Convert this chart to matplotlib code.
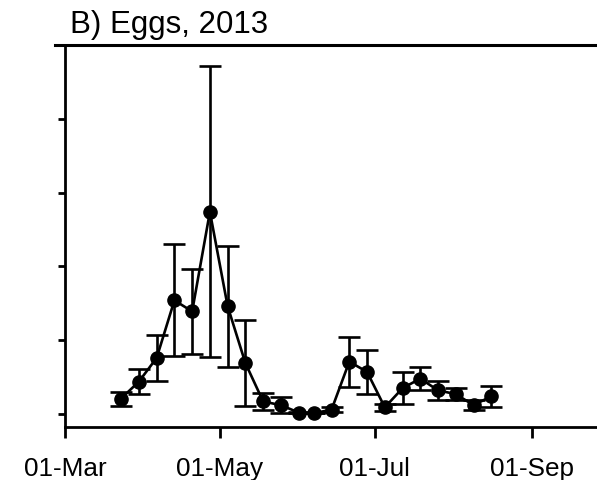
import matplotlib
matplotlib.use("Agg")
import matplotlib.pyplot as plt
import matplotlib.dates as mdates
from matplotlib.lines import Line2D
import datetime as dt

plt.rcParams['font.family'] = ['Liberation Sans', 'DejaVu Sans']

dates = ["2013-03-23", "2013-03-30", "2013-04-06", "2013-04-13", "2013-04-20",
         "2013-04-27", "2013-05-04", "2013-05-11", "2013-05-18", "2013-05-25",
         "2013-06-01", "2013-06-07", "2013-06-14", "2013-06-21", "2013-06-28",
         "2013-07-05", "2013-07-12", "2013-07-19", "2013-07-26", "2013-08-02",
         "2013-08-09", "2013-08-16"]
eggs = [0.21, 0.44, 0.76, 1.54, 1.39, 2.74, 1.46, 0.69, 0.17, 0.12, 0.02,
        0.01, 0.06, 0.71, 0.57, 0.09, 0.35, 0.48, 0.32, 0.27, 0.12, 0.24]
err = [0.095, 0.165, 0.31, 0.76, 0.575, 1.97, 0.82, 0.58, 0.115, 0.11, 0.01,
       0.0, 0.035, 0.34, 0.30, 0.05, 0.22, 0.16, 0.125, 0.08, 0.07, 0.14]
y_ticks = [0, 1, 2, 3, 4, 5]
x_ticks = ["2013-03-01", "2013-05-01", "2013-07-01", "2013-09-01"]

x = [dt.datetime.strptime(d, "%Y-%m-%d") for d in dates]

fig = plt.figure(figsize=(5.97, 4.81), dpi=100)
ax = fig.add_axes([65.4 / 597, 53 / 481, 1 - 65.4 / 597, (428 - 46) / 481])

ax.errorbar(x, eggs, yerr=err, fmt='o-', color='black', ecolor='black',
            markersize=9.5, linewidth=1.9, elinewidth=1.9, capsize=8.2,
            capthick=1.9)

x0 = dt.datetime(2013, 3, 1)
ax.set_xlim(x0, x0 + dt.timedelta(days=209.7))
ax.set_ylim(-0.176, 5.0)
ax.set_yticks(y_ticks)
ax.set_yticklabels([])
ax.set_xticks([dt.datetime.strptime(d, "%Y-%m-%d") for d in x_ticks])
ax.xaxis.set_major_formatter(mdates.DateFormatter('%d-%b'))

ax.tick_params(axis='x', direction='out', length=8, width=2, labelsize=18.8, pad=13)
ax.tick_params(axis='y', direction='out', length=5, width=2)
for s in ['left', 'bottom']:
    ax.spines[s].set_linewidth(2)
ax.spines['right'].set_visible(False)
ax.spines['top'].set_visible(False)

ytop = 1 - 46 / 481
fig.add_artist(Line2D([55 / 597, 1.0], [ytop, ytop], color='black', linewidth=2.2,
                      transform=fig.transFigure))

fig.text(70 / 597, 1 - 33 / 481, "B) Eggs, 2013", fontsize=22.5, ha='left', va='baseline')

fig.savefig("out.png", dpi=100)
